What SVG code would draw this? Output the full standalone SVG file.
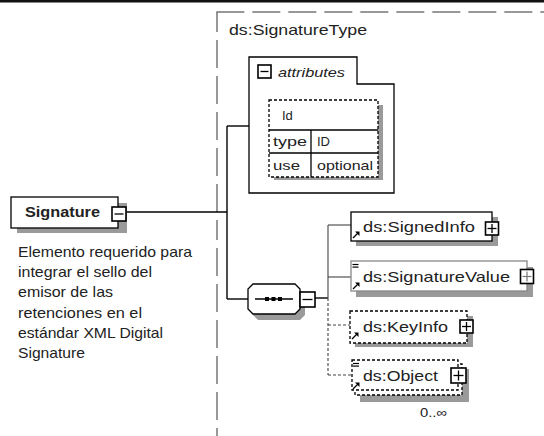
<svg xmlns="http://www.w3.org/2000/svg" width="544" height="436" viewBox="0 0 544 436">
<style>
text{font-family:"Liberation Sans",Arial,sans-serif;fill:#222}
.box{fill:#fff;stroke:#000;stroke-width:1.3}
.grey{stroke:#888}
.dbox{fill:#fff;stroke:#000;stroke-width:1.3;stroke-dasharray:3 2}
.shadow{fill:#9a9a9a}
.icon{fill:#fff;stroke:#000;stroke-width:1.6}
.ic{stroke:#000;stroke-width:1.3;fill:none}
.conn{stroke:#000;stroke-width:1.4;fill:none}
.branch{stroke:#444;stroke-width:1.1;fill:none}
.bdash{stroke:#444;stroke-width:1.1;fill:none;stroke-dasharray:3 2}
.el{font-size:15px}
.small{font-size:13px}
.desc{font-size:15px}
</style>
<defs>
<g id="ref">
<line x1="0" y1="6" x2="5" y2="1" stroke="#000" stroke-width="1.3"/>
<polygon points="6.5,-0.5 6.5,4 2,-0.5" fill="#000"/>
</g>
<g id="eq">
<line x1="0" y1="0" x2="6" y2="0" stroke="#000" stroke-width="1.2"/>
<line x1="0" y1="2.6" x2="6" y2="2.6" stroke="#000" stroke-width="1.2"/>
</g>
</defs>

<g id="frame">
<rect x="0" y="0" width="544" height="2.5" fill="#111"/>
<line x1="217" y1="12" x2="217" y2="436" stroke="#777" stroke-width="1.5" stroke-dasharray="20 8 28 8 28 8 28 8 28 8 28 8"/>
<line x1="216.3" y1="12" x2="544" y2="12" stroke="#777" stroke-width="1.5" stroke-dasharray="28 8"/>
<text x="229" y="35" font-size="15" textLength="138" lengthAdjust="spacingAndGlyphs">ds:SignatureType</text>
</g>

<g id="connectors">
<line class="conn" x1="127" y1="212" x2="227" y2="212"/>
<line class="conn" x1="227" y1="126" x2="227" y2="299"/>
<line class="conn" x1="227" y1="126" x2="249" y2="126"/>
<line class="conn" x1="227" y1="299" x2="248" y2="299"/>
<line class="conn" x1="315" y1="298" x2="328" y2="298"/>
<line class="branch" x1="328" y1="225" x2="328" y2="298"/>
<line class="bdash" x1="328" y1="298" x2="328" y2="375"/>
<line class="branch" x1="328" y1="225" x2="351" y2="225"/>
<line class="branch" x1="328" y1="277" x2="351" y2="277"/>
<line class="bdash" x1="328" y1="325" x2="350" y2="325"/>
<line class="bdash" x1="328" y1="375" x2="352" y2="375"/>
</g>

<g id="node-signature">
<rect class="shadow" x="17" y="203" width="110" height="30"/>
<rect class="box" x="11" y="197" width="107" height="31"/>
<text x="25" y="217" font-size="15" font-weight="bold" textLength="75" lengthAdjust="spacingAndGlyphs">Signature</text>
<rect class="icon" x="112" y="207" width="14" height="14" stroke-width="2"/>
<line class="ic" x1="114.5" y1="214" x2="123.5" y2="214"/>
</g>

<g id="desc-signature">
<text class="desc" x="18" y="257" textLength="174" lengthAdjust="spacingAndGlyphs">Elemento requerido para</text>
<text class="desc" x="18" y="277" textLength="134" lengthAdjust="spacingAndGlyphs">integrar el sello del</text>
<text class="desc" x="18" y="297" textLength="95" lengthAdjust="spacingAndGlyphs">emisor de las</text>
<text class="desc" x="18" y="318" textLength="124" lengthAdjust="spacingAndGlyphs">retenciones en el</text>
<text class="desc" x="18" y="338" textLength="145" lengthAdjust="spacingAndGlyphs">estándar XML Digital</text>
<text class="desc" x="18" y="358" textLength="67" lengthAdjust="spacingAndGlyphs">Signature</text>
</g>

<g id="node-attributes">
<path class="box" d="M249 57 H357 V84 H394 V193 H249 Z"/>
<rect class="icon" x="258" y="65" width="13" height="13"/>
<line class="ic" x1="260.5" y1="71.5" x2="268.5" y2="71.5"/>
<text x="278" y="77" font-size="13" font-style="italic" textLength="67" lengthAdjust="spacingAndGlyphs">attributes</text>
<rect class="shadow" x="274" y="105" width="109" height="75"/>
<rect class="dbox" x="269" y="100" width="109" height="77"/>
<line class="ic" x1="269" y1="130" x2="378" y2="130"/>
<line class="ic" x1="269" y1="153" x2="378" y2="153"/>
<line class="ic" x1="311" y1="130" x2="311" y2="177"/>
<text class="small" x="282" y="120">Id</text>
<text class="small" x="273" y="146" textLength="34" lengthAdjust="spacingAndGlyphs">type</text>
<text class="small" x="317" y="146">ID</text>
<text class="small" x="273" y="170" textLength="27" lengthAdjust="spacingAndGlyphs">use</text>
<text class="small" x="317" y="170" textLength="56" lengthAdjust="spacingAndGlyphs">optional</text>
</g>

<g id="node-sequence">
<polygon class="shadow" points="258,290 300,290 305,295 305,315 300,320 258,320 253,315 253,295"/>
<polygon class="box" points="253,284 295,284 300,289 300,309 295,314 253,314 248,309 248,289"/>
<line class="ic" x1="255" y1="299" x2="293" y2="299"/>
<rect x="265" y="297" width="4" height="4" fill="#000"/>
<rect x="271.5" y="297" width="4" height="4" fill="#000"/>
<rect x="278" y="297" width="4" height="4" fill="#000"/>
<rect class="icon" x="300" y="292" width="15" height="15" stroke-width="1.3"/>
<line class="ic" x1="302.5" y1="299.5" x2="312.5" y2="299.5"/>
</g>

<g id="node-signedinfo">
<rect class="shadow" x="356" y="217" width="142" height="29"/>
<rect class="box" x="351" y="212" width="141" height="29"/>
<use href="#ref" x="353" y="232"/>
<text class="el" x="363" y="232" textLength="112" lengthAdjust="spacingAndGlyphs">ds:SignedInfo</text>
<rect class="icon" x="485.5" y="222" width="13" height="13"/>
<line class="ic" x1="487.5" y1="228.5" x2="496.5" y2="228.5"/>
<line class="ic" x1="492" y1="224" x2="492" y2="233"/>
</g>

<g id="node-signaturevalue">
<rect class="shadow" x="356" y="267" width="177" height="30"/>
<rect class="box grey" x="351" y="261" width="176" height="30"/>
<use href="#eq" x="352.5" y="264.5"/>
<use href="#ref" x="353" y="283"/>
<text class="el" x="363" y="282" textLength="147" lengthAdjust="spacingAndGlyphs">ds:SignatureValue</text>
<rect class="icon" x="520.5" y="269.5" width="13" height="14" stroke="#777" stroke-width="1.2"/>
<line x1="522.5" y1="276.5" x2="531.5" y2="276.5" stroke="#777" stroke-width="1.2"/>
<line x1="527" y1="271.5" x2="527" y2="281.5" stroke="#777" stroke-width="1.2"/>
</g>

<g id="node-keyinfo">
<rect class="shadow" x="355" y="316" width="118" height="31"/>
<rect class="dbox" x="350" y="311" width="117" height="32"/>
<use href="#ref" x="352" y="333"/>
<text class="el" x="363" y="332" textLength="85" lengthAdjust="spacingAndGlyphs">ds:KeyInfo</text>
<rect class="icon" x="460" y="320" width="13" height="13"/>
<line class="ic" x1="462" y1="326.5" x2="471" y2="326.5"/>
<line class="ic" x1="466.5" y1="322" x2="466.5" y2="331"/>
</g>

<g id="node-object">
<rect class="shadow" x="360" y="369" width="109" height="33"/>
<rect class="dbox" x="355" y="364" width="107" height="31"/>
<rect class="dbox" x="352" y="360" width="106" height="30"/>
<use href="#eq" x="353" y="363.5"/>
<use href="#ref" x="353" y="383"/>
<text class="el" x="363" y="381" textLength="75" lengthAdjust="spacingAndGlyphs" fill="#444">ds:Object</text>
<rect class="icon" x="451" y="368" width="15" height="15" stroke-width="2"/>
<line class="ic" x1="453.5" y1="375.5" x2="463.5" y2="375.5"/>
<line class="ic" x1="458.5" y1="370.5" x2="458.5" y2="380.5"/>
<text class="small" x="420" y="417" textLength="27" lengthAdjust="spacingAndGlyphs">0..∞</text>
</g>
</svg>
